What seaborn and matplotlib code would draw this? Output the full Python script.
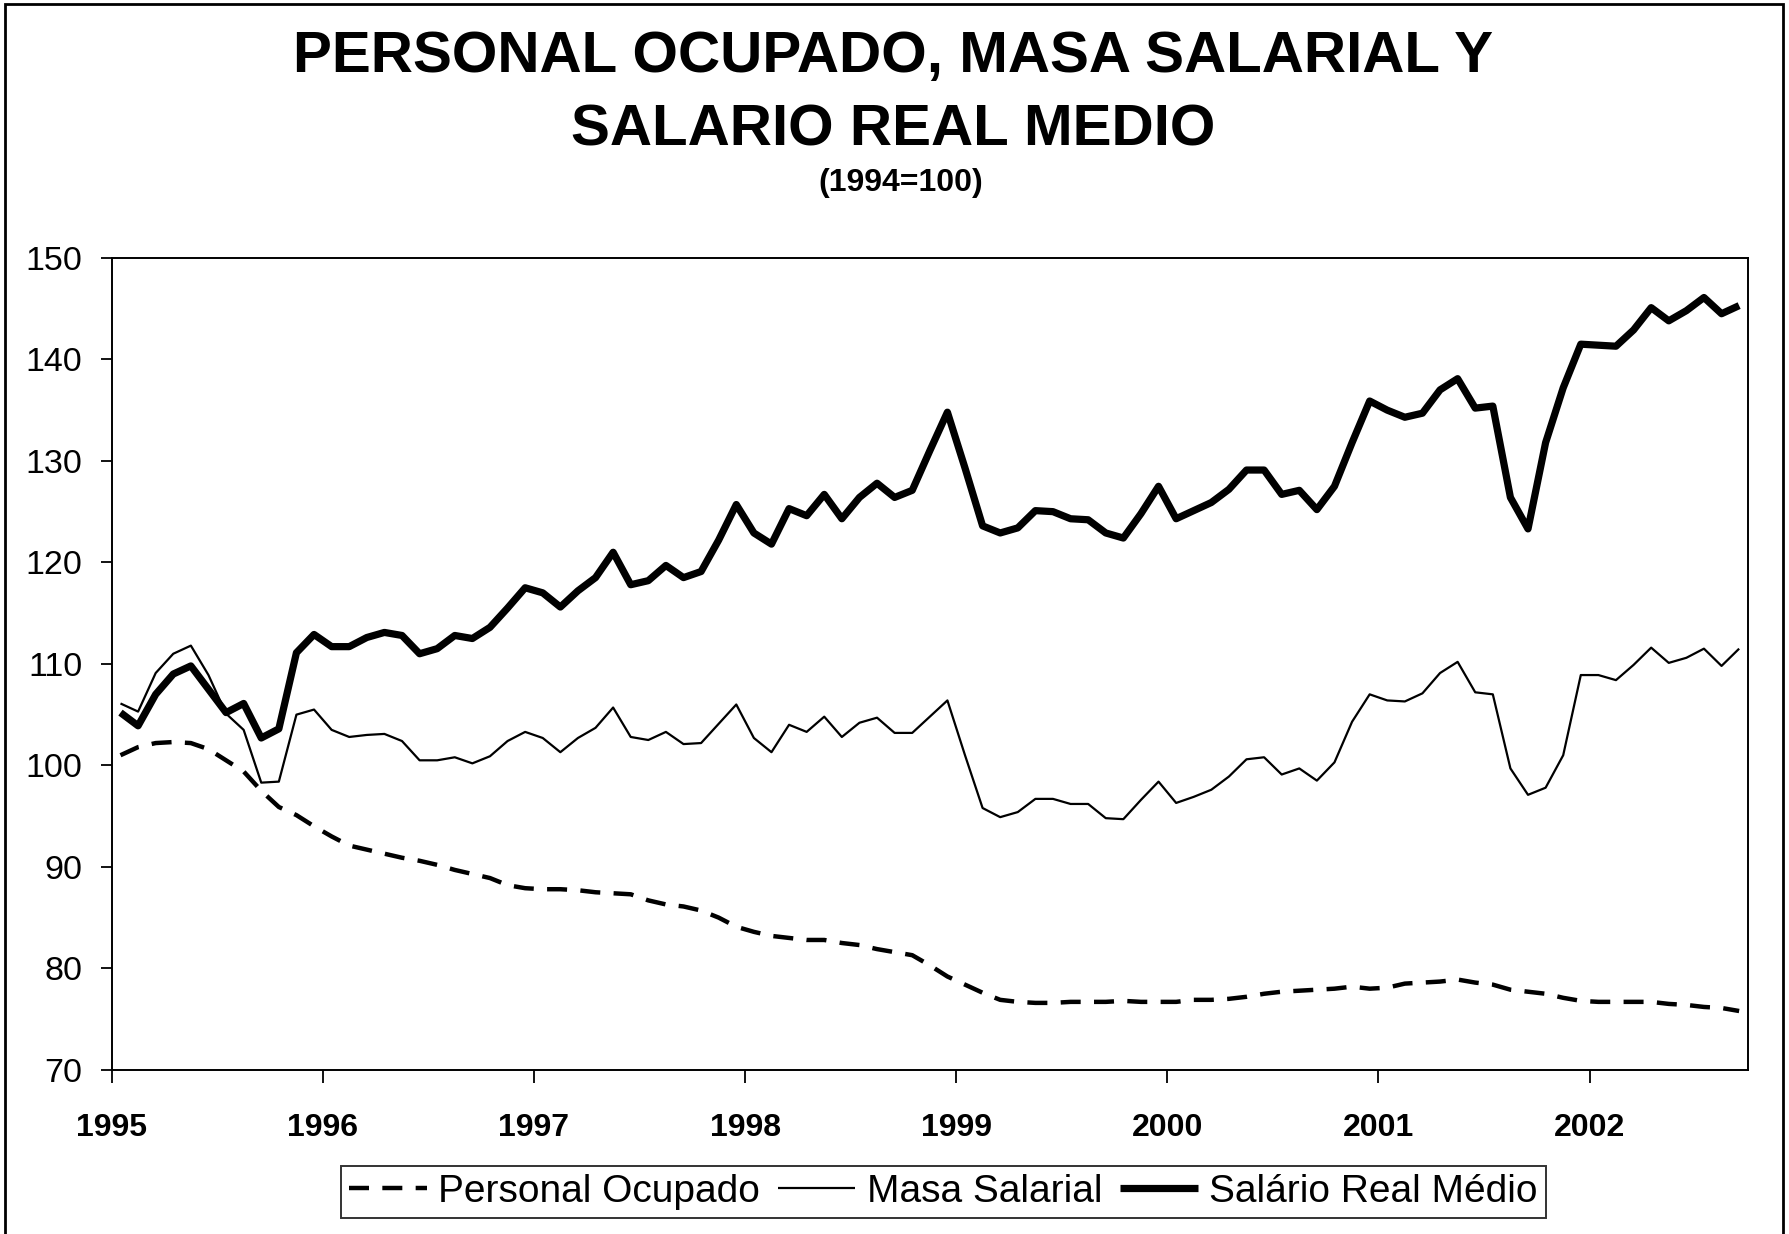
import numpy as np
import pandas as pd
import matplotlib
matplotlib.use("Agg")
import matplotlib.pyplot as plt
import seaborn as sns
from matplotlib.patches import Rectangle

# Monthly indexes, Jan 1995 - Sep 2002 (1994=100)
personal_ocupado = [
    101.0, 101.8, 102.2, 102.3, 102.2, 101.6, 100.5, 99.4, 97.5, 95.9, 95.1, 94.0,
    93.0, 92.1, 91.7, 91.3, 90.9, 90.6, 90.2, 89.7, 89.3, 88.9, 88.2, 87.9,
    87.8, 87.8, 87.7, 87.5, 87.4, 87.3, 86.7, 86.3, 86.1, 85.7, 85.0, 84.1,
    83.6, 83.2, 83.0, 82.8, 82.8, 82.5, 82.3, 81.9, 81.6, 81.3, 80.3, 79.2,
    78.4, 77.6, 76.9, 76.7, 76.6, 76.6, 76.7, 76.7, 76.7, 76.8, 76.7, 76.7,
    76.7, 76.9, 76.9, 77.0, 77.2, 77.5, 77.7, 77.8, 77.9, 78.0, 78.2, 78.0,
    78.1, 78.5, 78.6, 78.7, 78.9, 78.6, 78.4, 77.9, 77.7, 77.5, 77.1, 76.8,
    76.7, 76.7, 76.7, 76.7, 76.5, 76.4, 76.2, 76.1, 75.8,
]
masa_salarial = [
    106.1, 105.3, 109.1, 111.0, 111.8, 108.9, 105.1, 103.5, 98.3, 98.4, 105.0, 105.5,
    103.5, 102.8, 103.0, 103.1, 102.4, 100.5, 100.5, 100.8, 100.2, 100.9, 102.4, 103.3,
    102.7, 101.3, 102.7, 103.7, 105.7, 102.8, 102.5, 103.3, 102.1, 102.2, 104.1, 106.0,
    102.7, 101.3, 104.0, 103.3, 104.8, 102.8, 104.2, 104.7, 103.2, 103.2, 104.8, 106.4,
    101.0, 95.8, 94.9, 95.4, 96.7, 96.7, 96.2, 96.2, 94.8, 94.7, 96.6, 98.4,
    96.3, 96.9, 97.6, 98.9, 100.6, 100.8, 99.1, 99.7, 98.5, 100.3, 104.3, 107.0,
    106.4, 106.3, 107.1, 109.1, 110.2, 107.2, 107.0, 99.7, 97.1, 97.8, 101.0, 108.9,
    108.9, 108.4, 109.9, 111.6, 110.1, 110.6, 111.5, 109.8, 111.5,
]
salario_real = [
    105.2, 103.9, 107.0, 109.0, 109.8, 107.5, 105.2, 106.1, 102.7, 103.6, 111.1, 112.9,
    111.7, 111.7, 112.6, 113.1, 112.8, 111.0, 111.5, 112.8, 112.5, 113.6, 115.5, 117.5,
    117.0, 115.6, 117.2, 118.5, 121.0, 117.8, 118.2, 119.7, 118.5, 119.1, 122.2, 125.7,
    122.9, 121.8, 125.3, 124.6, 126.7, 124.3, 126.4, 127.8, 126.4, 127.1, 131.0, 134.8,
    129.3, 123.6, 122.9, 123.4, 125.1, 125.0, 124.3, 124.2, 122.9, 122.4, 124.8, 127.5,
    124.3, 125.1, 125.9, 127.2, 129.1, 129.1, 126.7, 127.1, 125.2, 127.5, 131.8, 135.9,
    135.0, 134.3, 134.7, 137.0, 138.1, 135.2, 135.4, 126.4, 123.3, 131.8, 137.2, 141.5,
    141.4, 141.3, 142.9, 145.1, 143.8, 144.8, 146.1, 144.5, 145.3,
]
years = list(range(1995, 2003))
y_ticks = list(range(70, 151, 10))

n = len(salario_real)
# each month sits in the middle of its category slot
t = 1995 + (np.arange(n) + 0.5) / 12
df = pd.DataFrame({"t": t, "Personal Ocupado": personal_ocupado,
                   "Masa Salarial": masa_salarial, "Salário Real Médio": salario_real})

sns.set_style("white")
plt.rcParams["font.family"] = ["Liberation Sans", "DejaVu Sans"]
plt.rcParams.update({"text.color": "black", "axes.labelcolor": "black",
                     "xtick.color": "black", "ytick.color": "black"})

fig = plt.figure(figsize=(17.9, 12.34), dpi=100)
ax = fig.add_axes([0.0624, 0.133, 0.9141, 0.658])

sns.lineplot(data=df, x="t", y="Personal Ocupado", ax=ax, color="black",
             lw=3.2, ls="--", label="Personal Ocupado")
sns.lineplot(data=df, x="t", y="Masa Salarial", ax=ax, color="black",
             lw=1.6, label="Masa Salarial")
sns.lineplot(data=df, x="t", y="Salário Real Médio", ax=ax, color="black",
             lw=5.2, label="Salário Real Médio")
ax.lines[0].set_dashes([4.5, 3.0])
for ln in ax.lines:
    ln.set_solid_joinstyle("round")
    ln.set_solid_capstyle("butt")

ax.set_xlim(1995, 1995 + n / 12)
ax.set_ylim(70, 150)
ax.set_xticks(years)
ax.set_xticklabels([str(y) for y in years], fontsize=23, fontweight="bold")
ax.set_yticks(y_ticks)
ax.set_yticklabels([str(v) for v in y_ticks], fontsize=24.5)
ax.tick_params(axis="y", direction="out", length=8, width=1.3, pad=13, left=True)
ax.tick_params(axis="x", direction="out", length=9, width=1.3, pad=22, bottom=True)
ax.set_xlabel("")
ax.set_ylabel("")
for sp in ax.spines.values():
    sp.set_color("black")
    sp.set_linewidth(1.4)

handles, labels = ax.get_legend_handles_labels()
ax.get_legend().remove()
leg = fig.legend(handles, labels, loc="center", bbox_to_anchor=(0.527, 0.034),
                 ncol=3, fontsize=28, frameon=True, fancybox=False,
                 edgecolor="black", handlelength=2.0, handletextpad=0.3,
                 columnspacing=0.45, borderpad=0.2, borderaxespad=0)
leg.get_frame().set_linewidth(1.4)

fig.text(0.499, 0.954, "PERSONAL OCUPADO, MASA SALARIAL Y", ha="center", va="center",
         fontsize=42, fontweight="bold")
fig.text(0.499, 0.894, "SALARIO REAL MEDIO", ha="center", va="center",
         fontsize=42, fontweight="bold")
fig.text(0.503, 0.852, "(1994=100)", ha="center", va="center",
         fontsize=23, fontweight="bold")

# outer frame around the whole chart
fig.patches.append(Rectangle((0.003, -0.01), 0.993, 1.007, transform=fig.transFigure,
                             fill=False, edgecolor="black", linewidth=2))

fig.savefig("out.png", dpi=100)
